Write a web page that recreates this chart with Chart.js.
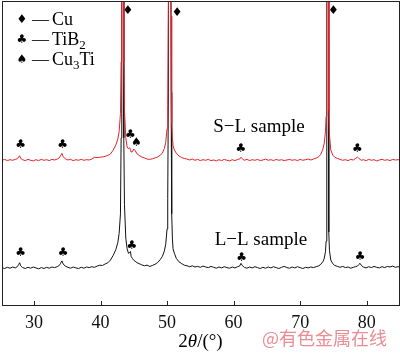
<!DOCTYPE html>
<html>
<head>
  <meta charset="utf-8" />
  <title>XRD patterns of L-L and S-L samples</title>
  <script src="https://cdn.jsdelivr.net/npm/chart.js"></script>
  <style>
    html, body { margin: 0; padding: 0; background: #fff; }
  </style>
</head>
<body>
  <canvas id="xrdChart" width="400" height="353"></canvas>

  <script>
    // 2theta grid (deg), shared by both scans
    const angles = [
      25.2, 25.6, 26.0, 26.4, 26.8, 27.2, 27.5, 27.7, 27.85, 28.0, 28.3, 28.7,
      29.1, 29.5, 29.9, 30.3, 30.7, 31.1, 31.5, 31.9, 32.3, 32.7, 33.1, 33.5,
      33.8, 34.0, 34.2, 34.4, 34.7, 35.1, 35.5, 35.9, 36.3, 36.7, 37.1, 37.5, 37.9,
      38.3, 38.7, 39.1, 39.5, 39.9, 40.3, 40.7, 41.1, 41.5, 41.9, 42.3, 42.6, 42.8,
      43.0, 43.1, 43.2, 43.3, 43.4, 43.5, 43.6, 43.8, 44.0,
      44.2, 44.4, 44.5, 44.6, 44.8, 45.0, 45.2, 45.5, 45.8, 46.2, 46.6, 47.0, 47.4, 47.8,
      48.2, 48.6, 49.0, 49.3, 49.6, 49.8, 50.0, 50.1, 50.2, 50.3, 50.4, 50.5, 50.6, 50.7, 50.8, 50.9,
      51.1, 51.4, 51.8, 52.2, 52.6, 53.0, 53.4, 53.8, 54.2, 54.6, 55.0, 55.4, 55.8, 56.2, 56.6, 57.0, 57.4, 57.8, 58.2, 58.6, 59.0, 59.4, 59.8, 60.2, 60.6,
      60.9, 61.1, 61.3, 61.6, 62.0, 62.4, 62.8, 63.2, 63.6, 64.0, 64.4, 64.8, 65.2, 65.6, 66.0, 66.4, 66.8, 67.2, 67.6, 68.0, 68.4, 68.8, 69.2, 69.6, 70.0, 70.4, 70.8, 71.2, 71.6, 72.0, 72.4,
      72.8, 73.1, 73.4, 73.6, 73.8, 73.9, 74.0, 74.1, 74.2, 74.3, 74.4, 74.6, 74.9, 75.2, 75.6,
      76.0, 76.4, 76.8, 77.2, 77.6, 78.0, 78.3, 78.6, 78.8, 79.0, 79.2, 79.5, 79.9, 80.3, 80.7, 81.1, 81.5, 81.9, 82.3, 82.7, 83.1, 83.5, 83.9, 84.3, 84.7, 85.0
    ];

    // L-L sample (black, lower trace)
    const llValues = [
      12.3, 12.0, 12.4, 12.1, 12.5, 12.2, 12.6, 13.3, 13.9, 12.9, 12.3, 12.0,
      12.4, 12.1, 12.5, 12.2, 11.9, 12.3, 12.0, 12.4, 12.1, 12.5, 12.3, 12.6,
      13.0, 13.7, 14.5, 13.5, 12.8, 12.4, 12.1, 12.5, 12.2, 12.0, 12.4, 12.1, 12.5,
      12.3, 12.6, 12.4, 12.8, 13.1, 13.0, 13.5, 13.9, 14.8, 16.3, 18.2, 20.5, 23.5,
      30, 55, 250, 600, 250, 55, 33, 22, 18.5,
      17.0, 17.3, 17.6, 16.0, 15.3, 14.7, 14.4, 13.9, 13.6, 13.2, 12.9, 13.1, 12.7, 13.0,
      13.4, 14.0, 15.0, 16.0, 17.8, 20.0, 25, 35, 70, 300, 600, 300, 70, 30, 22, 18.5,
      17.0, 15.3, 14.2, 13.6, 13.1, 12.9, 12.6, 12.9, 12.5, 12.7, 12.4, 12.8, 12.5, 12.3, 12.7, 12.4, 12.1, 12.5, 12.2, 12.6, 12.3, 12.1, 12.5, 12.2, 12.6,
      12.8, 13.7, 13.0, 12.4, 12.1, 12.5, 12.2, 12.6, 12.3, 12.0, 12.4, 12.1, 12.5, 12.2, 12.6, 12.3, 12.0, 12.4, 12.7, 12.3, 12.1, 12.5, 12.2, 12.6, 12.3, 12.0, 12.4, 12.2, 12.5, 12.3, 12.6,
      12.9, 13.4, 14.2, 15.2, 17.5, 21, 200, 600, 200, 24, 18.0, 14.8, 13.6, 13.0, 12.7,
      12.4, 12.7, 12.3, 12.5, 12.1, 12.4, 12.6, 12.8, 13.3, 13.7, 13.0, 12.5, 12.2, 12.6, 12.3, 12.7, 12.4, 12.2, 12.6, 12.3, 12.7, 12.5, 12.8, 12.4, 12.6, 12.5
    ];

    // S-L sample (red, upper trace)
    const slValues = [
      47.6, 47.9, 47.5, 47.8, 47.6, 47.9, 48.1, 48.7, 49.1, 48.2, 47.8, 47.5,
      47.9, 47.6, 47.4, 47.8, 47.5, 47.9, 47.6, 47.8, 47.5, 47.9, 47.7, 48.0,
      48.4, 49.1, 49.9, 48.8, 48.1, 47.7, 47.9, 47.5, 47.8, 47.6, 47.9, 47.6, 47.8,
      47.7, 48.0, 48.6, 48.5, 48.6, 48.7, 48.9, 49.2, 49.7, 50.9, 52.6, 54.6, 57.0,
      63, 80, 250, 600, 250, 80, 64, 55, 52,
      51.4, 51.7, 51.1, 50.3, 50.4, 51.3, 50.8, 49.7, 49.2, 48.7, 48.4, 48.0, 47.9, 48.1,
      48.4, 48.7, 49.3, 50.0, 51.5, 53.5, 58, 66, 100, 300, 600, 300, 95, 60, 55, 52.5,
      51.0, 49.9, 49.0, 48.5, 48.2, 48.0, 47.7, 48.0, 47.6, 47.9, 47.5, 47.8, 47.6, 47.9, 47.5, 47.7, 47.4, 47.8, 47.5, 47.9, 47.6, 47.4, 47.8, 47.5, 47.9,
      48.0, 48.6, 48.1, 47.6, 47.9, 47.5, 47.8, 47.6, 47.9, 47.5, 47.7, 48.0, 47.6, 47.8, 47.5, 47.9, 47.6, 47.8, 47.5, 47.7, 47.9, 47.6, 47.8, 47.5, 47.9, 47.6, 47.8, 48.0, 47.7, 48.0, 48.3,
      48.8, 49.6, 51.2, 53.0, 57, 62, 200, 600, 200, 64, 56, 51.0, 49.3, 48.6, 48.2,
      47.9, 47.6, 47.8, 47.5, 47.9, 47.7, 48.2, 48.6, 48.3, 47.9, 47.6, 47.8, 47.5, 47.9, 47.6, 47.8, 47.4, 47.7, 47.9, 47.6, 47.8, 47.5, 47.9, 47.7, 47.8, 47.7
    ];

    const xTicks = [30, 40, 50, 60, 70, 80];

    // phase markers [2theta, intensity]
    const cuMarks = [[44.1, 96.6], [51.5, 96.0], [75.0, 96.6]];
    const tib2Marks = [
      [28.0, 52.6], [34.3, 52.6], [44.5, 56.0], [61.1, 51.5], [78.6, 51.5],
      [28.0, 17.2], [34.4, 17.2], [44.7, 19.3], [61.2, 15.4], [79.0, 15.9]
    ];
    const cu3tiMarks = [[45.4, 53.2]];
    const sampleLabels = [['S\u2212L sample', 63.8, 58.5], ['L\u2212L sample', 64.1, 21.4]];

    const SERIF = '"Liberation Serif", "Times New Roman", serif';
    const SYMBOL = '"DejaVu Sans", sans-serif';

    // text made of runs: [text, 'sub' | 'it' | undefined]
    function setRunFont(ctx, kind, size) {
      if (kind === 'sub') ctx.font = Math.round(size * 0.7) + 'px ' + SERIF;
      else if (kind === 'it') ctx.font = 'italic ' + size + 'px ' + SERIF;
      else ctx.font = size + 'px ' + SERIF;
    }

    function drawRuns(ctx, runs, x, y, size) {
      let cx = x;
      runs.forEach(([t, kind]) => {
        setRunFont(ctx, kind, size);
        ctx.fillText(t, cx, y + (kind === 'sub' ? size * 0.3 : 0));
        cx += ctx.measureText(t).width;
      });
      return cx - x;
    }

    function runsWidth(ctx, runs, size) {
      let w = 0;
      runs.forEach(([t, kind]) => {
        setRunFont(ctx, kind, size);
        w += ctx.measureText(t).width;
      });
      return w;
    }

    const overlay = {
      id: 'overlay',
      afterDraw(chart) {
        const { ctx, chartArea: a, scales: { x, y } } = chart;
        ctx.save();

        // frame
        ctx.strokeStyle = '#222';
        ctx.lineWidth = 1;
        ctx.strokeRect(a.left + 0.5, a.top + 0.5, a.right - a.left, a.bottom - a.top);

        // inward tick marks
        ctx.beginPath();
        xTicks.forEach(v => {
          const px = Math.round(x.getPixelForValue(v)) + 0.5;
          ctx.moveTo(px, a.bottom);
          ctx.lineTo(px, a.bottom - 4);
        });
        ctx.stroke();

        // phase markers
        ctx.fillStyle = '#000';
        ctx.textAlign = 'center';
        ctx.textBaseline = 'middle';
        ctx.font = '12px ' + SYMBOL;
        cuMarks.forEach(m => ctx.fillText('\u2666', x.getPixelForValue(m[0]), y.getPixelForValue(m[1])));
        tib2Marks.forEach(m => ctx.fillText('\u2663', x.getPixelForValue(m[0]), y.getPixelForValue(m[1])));
        cu3tiMarks.forEach(m => ctx.fillText('\u2660', x.getPixelForValue(m[0]), y.getPixelForValue(m[1])));

        // sample labels
        ctx.font = '19px ' + SERIF;
        sampleLabels.forEach(([t, ax, ay]) => ctx.fillText(t, x.getPixelForValue(ax), y.getPixelForValue(ay)));

        // legend
        const rows = [
          ['\u2666', [['Cu']]],
          ['\u2663', [['TiB'], ['2', 'sub']]],
          ['\u2660', [['Cu'], ['3', 'sub'], ['Ti']]]
        ];
        rows.forEach(([sym, runs], i) => {
          const ry = a.top + 19 + i * 20;
          ctx.textAlign = 'center';
          ctx.font = '12px ' + SYMBOL;
          ctx.fillText(sym, 22, ry);
          ctx.textAlign = 'left';
          ctx.font = '17px ' + SERIF;
          ctx.fillText('\u2014', 32, ry);
          drawRuns(ctx, runs, 52, ry, 18);
        });

        // axis title 2θ/(°)
        const title = [['2'], ['\u03b8', 'it'], ['/(\u00b0)']];
        ctx.textAlign = 'left';
        ctx.textBaseline = 'middle';
        const tw = runsWidth(ctx, title, 19);
        drawRuns(ctx, title, (a.left + a.right) / 2 - tw / 2, 342, 19);

        // watermark
        ctx.fillStyle = 'rgba(232, 120, 128, 0.85)';
        ctx.font = '18px "Noto Sans CJK SC", sans-serif';
        ctx.fillText('@有色金属在线', 262, 338);

        ctx.restore();
      }
    };

    const toPoints = vals => angles.map((a, i) => ({ x: a, y: vals[i] }));

    new Chart(document.getElementById('xrdChart').getContext('2d'), {
      type: 'line',
      data: {
        datasets: [
          {
            label: 'S-L sample',
            data: toPoints(slValues),
            borderColor: '#e3212b',
            borderWidth: 1,
            pointRadius: 0,
            tension: 0
          },
          {
            label: 'L-L sample',
            data: toPoints(llValues),
            borderColor: '#111',
            borderWidth: 1,
            pointRadius: 0,
            tension: 0
          }
        ]
      },
      options: {
        responsive: false,
        animation: false,
        layout: { padding: { left: 2, right: 1, top: 1, bottom: 0 } },
        plugins: {
          legend: { display: false },
          tooltip: { enabled: false }
        },
        scales: {
          x: {
            type: 'linear',
            min: 25.2,
            max: 84.85,
            afterBuildTicks: s => { s.ticks = xTicks.map(v => ({ value: v })); },
            afterFit: s => { s.height = 48; },
            grid: { display: false },
            border: { display: false },
            ticks: {
              color: '#111',
              padding: -1,
              maxRotation: 0,
              font: { family: 'Liberation Serif', size: 18 }
            }
          },
          y: { display: false, min: 0, max: 100 }
        }
      },
      plugins: [overlay]
    });
  </script>
</body>
</html>
